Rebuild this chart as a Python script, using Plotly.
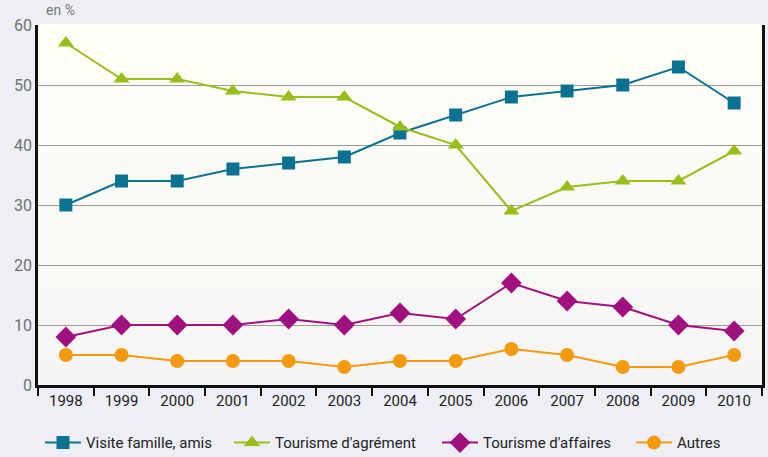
import plotly.graph_objects as go

years = [str(y) for y in range(1998, 2011)]
visite = [30, 34, 34, 36, 37, 38, 42, 45, 48, 49, 50, 53, 47]
agrement = [57, 51, 51, 49, 48, 48, 43, 40, 29, 33, 34, 34, 39]
affaires = [8, 10, 10, 10, 11, 10, 12, 11, 17, 14, 13, 10, 9]
autres = [5, 5, 4, 4, 4, 3, 4, 4, 6, 5, 3, 3, 5]

FONT = "Roboto, sans-serif"

series = [
    ("Visite famille, amis", visite, "#0B7391", "square", 13, "legend"),
    ("Tourisme d'agrément", agrement, "#98BE1A", "triangle-up", 14, "legend2"),
    ("Tourisme d'affaires", affaires, "#A0107E", "diamond", 16, "legend3"),
    ("Autres", autres, "#F39A10", "circle", 14, "legend4"),
]

fig = go.Figure()
for name, vals, col, sym, sz, leg in series:
    fig.add_trace(go.Scatter(
        x=years, y=vals, name=name, mode="lines+markers", legend=leg,
        line=dict(color=col, width=2),
        marker=dict(symbol=sym, size=sz, color=col),
    ))

# vertical gradient of the plot background (cream -> light grey)
n = 40
shapes = []
for i in range(n):
    t = i / (n - 1)
    r = round(0xF5 + (0xFF - 0xF5) * t)
    g = round(0xF5 + (0xFE - 0xF5) * t)
    b = round(0xF5 + (0xF6 - 0xF5) * t)
    shapes.append(dict(type="rect", xref="paper", yref="paper", layer="below",
                       x0=0, x1=1, y0=i / n, y1=(i + 1) / n + 0.002,
                       fillcolor=f"rgb({r},{g},{b})", line=dict(width=0)))


def leg(xpx):
    return dict(orientation="h", xref="container", yref="container",
                x=xpx / 768, xanchor="left", y=0.031, yanchor="middle",
                bgcolor="rgba(0,0,0,0)", font=dict(size=15, color="#222222"),
                itemwidth=36)


fig.update_layout(
    width=768, height=457, autosize=False,
    paper_bgcolor="#EEEFF5",
    plot_bgcolor="#F7F7F2",
    margin=dict(l=38, r=6, t=25, b=72),
    font=dict(family=FONT, size=15, color="#222222"),
    shapes=shapes,
    showlegend=True,
    legend=leg(40), legend2=leg(229), legend3=leg(437), legend4=leg(631),
    annotations=[dict(text="en %", xref="paper", yref="paper", x=0.008, y=1.015,
                      xanchor="left", yanchor="bottom", showarrow=False,
                      font=dict(size=14, color="#777777"))],
)
fig.update_xaxes(
    type="category", range=[-0.5, 12.5], tickson="boundaries", ticks="outside",
    ticklen=8, tickcolor="#111111", tickwidth=1.5, showline=True,
    linecolor="#111111", linewidth=2.5, showgrid=False, automargin=False,
    tickfont=dict(size=15, color="#222222"),
)
fig.update_yaxes(
    range=[0, 60], dtick=10, showline=True, mirror=True, linecolor="#111111",
    linewidth=2.5, gridcolor="#9A9A9A", gridwidth=1, zeroline=False,
    ticks="", automargin=False, tickfont=dict(size=16, color="#707070"),
)

fig.write_html(
    "out.html",
    config={"displayModeBar": False},
    post_script="document.body.style.margin='0';"
                "Plotly.relayout(document.getElementById('{plot_id}'),{width:768,height:457});",
)
